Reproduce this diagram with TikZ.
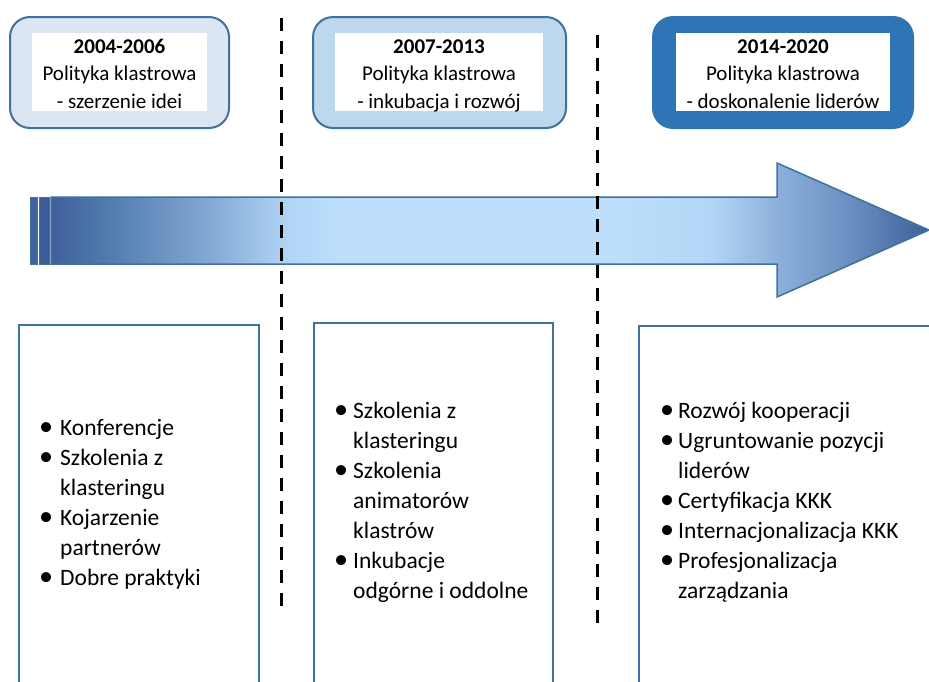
\documentclass[tikz,border=0pt]{standalone}
\usepackage{fontspec}
\usepackage{graphicx}
\setmainfont{Carlito}
\definecolor{edge}{HTML}{41719C}
\definecolor{fillA}{HTML}{DCE6F2}
\definecolor{fillB}{HTML}{BDD7EE}
\definecolor{fillC}{HTML}{2E75B6}
\definecolor{stripeA}{HTML}{3F629C}
\definecolor{stripeB}{HTML}{3A5C98}
\definecolor{sa}{HTML}{3F609B}
\definecolor{sb}{HTML}{4E78AB}
\definecolor{sc}{HTML}{7EA4D0}
\definecolor{sd}{HTML}{B0D5F5}
\definecolor{se}{HTML}{BDDFFC}
\definecolor{sf}{HTML}{B3D6F6}
\definecolor{sg}{HTML}{8BAFDA}
\definecolor{sh}{HTML}{6A90C2}
\definecolor{si}{HTML}{3C6098}
\pgfdeclarehorizontalshading{arrowshade}{100bp}{color(0bp)=(sa); color(25bp)=(sa); color(27.8bp)=(sb); color(33.5bp)=(sc); color(38.5bp)=(sd); color(41.5bp)=(se); color(57bp)=(se); color(62.5bp)=(sf); color(66.5bp)=(sg); color(70.5bp)=(sh); color(75bp)=(si); color(100bp)=(si)}
\newcommand\bul[1]{\makebox[#1][l]{\scalebox{1.2}{•}}}
\tikzset{
  outerbox/.style={draw, line width=2pt, rounded corners=20pt, inner sep=0pt},
  innerbox/.style={fill=white, inner sep=0pt},
  toptext/.style={font=\fontsize{21}{27.5}\selectfont, align=center, inner sep=0pt, anchor=base},
  listbox/.style={draw=edge, line width=2pt},
  listtext/.style={font=\fontsize{23.5}{30}\selectfont, align=left, inner sep=0pt, anchor=base west},
  sepline/.style={line width=3pt, dash pattern=on 13pt off 10pt}
}
\begin{document}
\begin{tikzpicture}[x=1pt,y=-1pt]
\clip (0,0) rectangle (929,681);
\fill[white] (0,0) rectangle (929,681);

% top boxes (text nodes anchored at the baseline of their last line)
\node[outerbox, draw=edge, fill=fillA, minimum width=219pt, minimum height=111pt] (t1) at (119.5,72.5) {};
\node[innerbox, minimum width=175pt, minimum height=78pt] (w1) at (119.5,72) {};
\node[toptext] (x1) at (119.5,108) {\bfseries 2004-2006\\Polityka klastrowa\\- szerzenie idei};

\node[outerbox, draw=edge, fill=fillB, minimum width=253pt, minimum height=111pt] (t2) at (439.5,72.5) {};
\node[innerbox, minimum width=208pt, minimum height=78pt] (w2) at (439,72) {};
\node[toptext] (x2) at (439,108) {\bfseries 2007-2013\\Polityka klastrowa\\- inkubacja i rozwój};

\node[outerbox, draw=fillC, fill=fillC, minimum width=260pt, minimum height=111pt] (t3) at (783,72.5) {};
\node[innerbox, minimum width=214pt, minimum height=78pt] (w3) at (783,72) {};
\node[toptext] (x3) at (783,108) {\bfseries 2014-2020\\Polityka klastrowa\\- doskonalenie liderów};

% arrow
\coordinate (a1) at (51,197);
\coordinate (a2) at (777,197);
\coordinate (a3) at (777,163);
\coordinate (a4) at (929,230);
\coordinate (a5) at (777,297);
\coordinate (a6) at (777,264);
\coordinate (a7) at (51,264);
\shade[shading=arrowshade, draw=edge, line width=1.5pt] (a1) -- (a2) -- (a3) -- (a4) -- (a5) -- (a6) -- (a7) -- cycle;
\draw[fill=stripeA, draw=edge, line width=1pt] (30.5,197) rectangle (37,264);
\draw[fill=stripeB, draw=edge, line width=1pt] (39,197) rectangle (49.5,264);

% separators
\coordinate (d1s) at (281,18);
\coordinate (d1e) at (281,606);
\coordinate (d2s) at (597,35);
\coordinate (d2e) at (597,632);
\draw[sepline] (d1s) -- (d1e);
\draw[sepline] (d2s) -- (d2e);

% bottom boxes
\draw[listbox] (19,325) rectangle (259,700);
\draw[listbox] (314,323) rectangle (553,700);
\draw[listbox] (639,326) rectangle (940,700);

\node[listtext] (l1) at (39,585) {\bul{21pt}Konferencje\\\bul{21pt}Szkolenia z\\\hspace*{21pt}klasteringu\\\bul{21pt}Kojarzenie\\\hspace*{21pt}partnerów\\\bul{21pt}Dobre praktyki};
\node[listtext] (l2) at (334,598) {\bul{19pt}Szkolenia z\\\hspace*{19pt}klasteringu\\\bul{19pt}Szkolenia\\\hspace*{19pt}animatorów\\\hspace*{19pt}klastrów\\\bul{19pt}Inkubacje\\\hspace*{19pt}odgórne i oddolne};
\node[listtext] (l3) at (660,598) {\bul{18pt}Rozwój kooperacji\\\bul{18pt}Ugruntowanie pozycji\\\hspace*{18pt}liderów\\\bul{18pt}Certyfikacja KKK\\\bul{18pt}Internacjonalizacja KKK\\\bul{18pt}Profesjonalizacja\\\hspace*{18pt}zarządzania};
\end{tikzpicture}
\end{document}
